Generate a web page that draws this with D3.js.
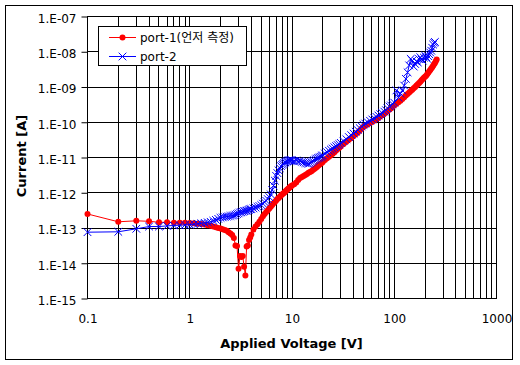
<!DOCTYPE html>
<html>
<head>
<meta charset="utf-8">
<script src="https://cdn.jsdelivr.net/npm/d3@7"></script>
<style>
  body { margin: 0; background: #fff; }
  text { font-family: "DejaVu Sans", sans-serif; fill: #000; }
</style>
</head>
<body>
<script>
// applied voltage [V], shared by both ports (port-2 stops earlier)
var voltage = [
  0.1, 0.2, 0.3, 0.4, 0.5, 0.6, 0.7, 0.8, 0.9, 1.0,
  1.1, 1.2, 1.3, 1.4, 1.5, 1.6, 1.7, 1.8, 1.9, 2.0,
  2.1, 2.2, 2.3, 2.4, 2.5, 2.6, 2.7, 2.8, 2.9, 3.0,
  3.1, 3.2, 3.3, 3.4, 3.5, 3.6, 3.7, 3.8, 3.9, 4.0,
  4.2, 4.4, 4.6, 4.8, 5.0, 5.2, 5.4, 5.6, 5.8, 6.0,
  6.2, 6.4, 6.6, 6.8, 7.0, 7.2, 7.4, 7.6, 7.8, 8.0,
  8.2, 8.4, 8.6, 8.8, 9.0, 9.2, 9.4, 9.6, 9.8, 10,
  10.5, 11, 11.5, 12, 12.5, 13, 13.5, 14, 14.5, 15,
  15.5, 16, 16.5, 17, 17.5, 18, 18.5, 19, 19.5, 20,
  21, 22, 23, 24, 25, 26, 27, 28, 29, 30,
  32, 34, 36, 38, 40, 42, 44, 46, 48, 50,
  52, 55, 58, 61, 64, 67, 70, 73, 76, 80, 83, 86, 90, 93, 96, 100,
  105, 110, 115, 120, 125, 130, 135, 140, 145, 150,
  155, 160, 165, 170, 175, 180, 185, 190, 195, 200,
  205, 210, 215, 220, 225, 230, 235, 240, 245, 250, 255, 260
];

// current [A], port-1 (measured first)
var port1 = [
  2.5e-13, 1.5e-13, 1.6e-13, 1.55e-13, 1.45e-13, 1.45e-13, 1.42e-13, 1.4e-13, 1.4e-13, 1.38e-13,
  1.36e-13, 1.33e-13, 1.3e-13, 1.26e-13, 1.2e-13, 1.15e-13, 1.1e-13, 1.05e-13, 1.0e-13, 9.6e-14,
  9.2e-14, 8.8e-14, 8.3e-14, 7.6e-14, 7.0e-14, 6.3e-14, 5.2e-14, 3.2e-14, 3.1e-14, 7e-15,
  1.6e-14, 1.5e-14, 1.6e-14, 8e-15, 4.5e-15, 3.0e-14, 3.2e-14, 4.6e-14, 5.4e-14, 6.5e-14,
  9e-14, 1.1e-13, 1.28e-13, 1.5e-13, 1.8e-13, 2.15e-13, 2.5e-13, 2.85e-13, 3.2e-13, 3.6e-13,
  4.0e-13, 4.5e-13, 5.0e-13, 5.5e-13, 6.0e-13, 6.6e-13, 7.1e-13, 7.7e-13, 8.3e-13, 8.9e-13,
  9.5e-13, 1.0e-12, 1.08e-12, 1.15e-12, 1.23e-12, 1.3e-12, 1.38e-12, 1.45e-12, 1.53e-12, 1.6e-12,
  1.75e-12, 1.95e-12, 2.3e-12, 2.6e-12, 2.8e-12, 3.0e-12, 3.2e-12, 3.4e-12, 3.7e-12, 3.9e-12,
  4.1e-12, 4.4e-12, 4.7e-12, 5.0e-12, 5.4e-12, 5.8e-12, 6.2e-12, 6.6e-12, 7.0e-12, 7.5e-12,
  8.5e-12, 9.5e-12, 1.05e-11, 1.15e-11, 1.28e-11, 1.42e-11, 1.58e-11, 1.75e-11, 1.9e-11, 2.05e-11,
  2.4e-11, 2.8e-11, 3.2e-11, 3.6e-11, 4.1e-11, 4.6e-11, 5.1e-11, 5.8e-11, 6.6e-11, 7.4e-11,
  7.9e-11, 8.7e-11, 9.5e-11, 1.03e-10, 1.12e-10, 1.22e-10, 1.33e-10, 1.45e-10, 1.58e-10, 1.75e-10,
  1.9e-10, 2.05e-10, 2.3e-10, 2.5e-10, 2.7e-10, 3.0e-10,
  3.35e-10, 3.7e-10, 4.1e-10, 4.6e-10, 5.1e-10, 5.7e-10, 6.3e-10, 7.0e-10, 7.7e-10, 8.4e-10,
  9.2e-10, 1.0e-9, 1.1e-9, 1.2e-9, 1.3e-9, 1.42e-9, 1.55e-9, 1.68e-9, 1.82e-9, 1.96e-9,
  2.1e-9, 2.3e-9, 2.55e-9, 2.8e-9, 3.05e-9, 3.35e-9, 3.65e-9, 4.0e-9, 4.4e-9, 4.8e-9, 5.4e-9, 6.0e-9
];

// current [A], port-2
var port2 = [
  7.6e-14, 7.8e-14, 9.5e-14, 1.1e-13, 1.1e-13, 1.15e-13, 1.18e-13, 1.2e-13, 1.22e-13, 1.25e-13,
  1.28e-13, 1.32e-13, 1.36e-13, 1.4e-13, 1.45e-13, 1.5e-13, 1.6e-13, 1.7e-13, 1.82e-13, 1.95e-13,
  2.0e-13, 2.05e-13, 2.1e-13, 2.15e-13, 2.2e-13, 2.25e-13, 2.3e-13, 2.4e-13, 2.5e-13, 2.6e-13,
  2.75e-13, 2.8e-13, 2.9e-13, 3.0e-13, 3.05e-13, 3.1e-13, 3.2e-13, 3.3e-13, 3.4e-13, 3.45e-13,
  3.6e-13, 3.8e-13, 4.0e-13, 4.2e-13, 4.5e-13, 4.9e-13, 5.4e-13, 5.9e-13, 6.6e-13, 7.5e-13,
  9.0e-13, 1.2e-12, 1.6e-12, 2.2e-12, 3.0e-12, 3.6e-12, 4.3e-12, 5.0e-12, 5.7e-12, 6.2e-12,
  6.6e-12, 7.0e-12, 7.3e-12, 7.6e-12, 7.9e-12, 8.1e-12, 8.3e-12, 8.2e-12, 8.4e-12, 8.3e-12,
  8.0e-12, 8.2e-12, 7.8e-12, 7.9e-12, 7.5e-12, 7.3e-12, 7.0e-12, 6.8e-12, 6.6e-12, 6.9e-12,
  7.4e-12, 7.9e-12, 8.4e-12, 8.9e-12, 9.3e-12, 9.7e-12, 1.0e-11, 1.05e-11, 1.1e-11, 1.15e-11,
  1.3e-11, 1.42e-11, 1.55e-11, 1.68e-11, 1.8e-11, 1.95e-11, 2.1e-11, 2.25e-11, 2.4e-11, 2.6e-11,
  2.9e-11, 3.3e-11, 3.8e-11, 4.3e-11, 4.8e-11, 5.4e-11, 6.0e-11, 6.8e-11, 7.6e-11, 8.5e-11,
  9.2e-11, 1.0e-10, 1.1e-10, 1.2e-10, 1.3e-10, 1.42e-10, 1.55e-10, 1.7e-10, 1.85e-10, 2.0e-10,
  2.2e-10, 2.5e-10, 2.8e-10, 3.0e-10, 3.3e-10, 3.6e-10,
  8e-10, 5e-10, 6.5e-10, 8e-10, 1.1e-9, 1.7e-9, 2.6e-9, 4.1e-9, 6.3e-9, 5.6e-9,
  3.8e-9, 4.5e-9, 5.3e-9, 5.0e-9, 6.2e-9, 7.0e-9, 6.0e-9, 5.6e-9, 6.8e-9, 7.8e-9,
  7.0e-9, 6.3e-9, 7.5e-9, 8.5e-9, 9.5e-9, 1.07e-8, 1.3e-8, 1.6e-8, 1.8e-8, 1.9e-8
];

var seriesNames = ["port-1(언저 측정)", "port-2"];
var xTickLabels = ["0.1", "1", "10", "100", "1000"];
var yTickLabels = ["1.E-15", "1.E-14", "1.E-13", "1.E-12", "1.E-11", "1.E-10", "1.E-09", "1.E-08", "1.E-07"];

var W = 520, H = 365;
var plotL = 87.5, plotR = 496.5, plotT = 16.5, plotB = 298.5;

var svg = d3.select("body").append("svg")
    .attr("width", W)
    .attr("height", H);

// chart frame
svg.append("rect")
    .attr("x", 5.5).attr("y", 5.5)
    .attr("width", 507).attr("height", 354)
    .attr("fill", "#fff")
    .attr("stroke", "#000");

var x = d3.scaleLog().domain([0.1, 1000]).range([plotL, plotR]);
var y = d3.scaleLog().domain([1e-15, 1e-7]).range([plotB, plotT]);

function isDecade(d) {
  return Math.abs(Math.log10(d) - Math.round(Math.log10(d))) < 1e-9;
}
var xDecades = x.ticks().filter(isDecade);
var yDecades = y.ticks().filter(isDecade);

function snap(v) { return Math.round(v - 0.5) + 0.5; }

// grid: all log ticks on x, decades on y
svg.append("g").selectAll("line")
    .data(x.ticks())
  .enter().append("line")
    .attr("x1", function(d) { return snap(x(d)); })
    .attr("x2", function(d) { return snap(x(d)); })
    .attr("y1", plotT).attr("y2", plotB)
    .attr("stroke", "#000");

svg.append("g").selectAll("line")
    .data(yDecades)
  .enter().append("line")
    .attr("x1", plotL).attr("x2", plotR)
    .attr("y1", function(d) { return snap(y(d)); })
    .attr("y2", function(d) { return snap(y(d)); })
    .attr("stroke", "#000");

svg.append("rect")
    .attr("x", plotL).attr("y", plotT)
    .attr("width", plotR - plotL).attr("height", plotB - plotT)
    .attr("fill", "none")
    .attr("stroke", "#000");

// axes
var yAxis = svg.append("g")
    .attr("transform", "translate(" + plotL + ",0)")
    .call(d3.axisLeft(y).tickValues(yDecades).tickSize(6).tickPadding(5)
      .tickFormat(function(d, i) { return yTickLabels[i]; }));
yAxis.select(".domain").remove();
yAxis.selectAll("line").attr("stroke", "#000");
yAxis.selectAll("text").attr("font-size", 12).attr("dy", "0.48em")
    .attr("fill", "#000").style("font-family", "DejaVu Sans");

var xAxis = svg.append("g")
    .attr("transform", "translate(0," + plotB + ")")
    .call(d3.axisBottom(x).tickValues(xDecades).tickSize(0).tickPadding(16)
      .tickFormat(function(d, i) { return xTickLabels[i]; }));
xAxis.select(".domain").remove();
xAxis.selectAll("text").attr("font-size", 12)
    .attr("fill", "#000").style("font-family", "DejaVu Sans");

svg.append("text")
    .attr("x", 291.5).attr("y", 348)
    .attr("text-anchor", "middle")
    .attr("font-size", 13).attr("font-weight", "bold")
    .text("Applied Voltage [V]");

svg.append("text")
    .attr("transform", "translate(26,156) rotate(-90)")
    .attr("text-anchor", "middle")
    .attr("font-size", 13).attr("font-weight", "bold")
    .text("Current [A]");

// series
var line = d3.line()
    .x(function(d) { return x(d[0]); })
    .y(function(d) { return y(d[1]); });

var pts1 = port1.map(function(v, i) { return [voltage[i], v]; });
var pts2 = port2.map(function(v, i) { return [voltage[i], v]; });

var cross = d3.symbol().type(d3.symbolX).size(40);

function drawRed(g, pts) {
  g.append("path").datum(pts)
      .attr("d", line)
      .attr("fill", "none")
      .attr("stroke", "#ff0000")
      .attr("stroke-width", 1);
  g.selectAll("circle").data(pts)
    .enter().append("circle")
      .attr("cx", function(d) { return x(d[0]); })
      .attr("cy", function(d) { return y(d[1]); })
      .attr("r", 3)
      .attr("fill", "#ff0000");
}

function drawBlue(g, pts) {
  g.append("path").datum(pts)
      .attr("d", line)
      .attr("fill", "none")
      .attr("stroke", "#0000ff")
      .attr("stroke-width", 1);
  g.selectAll("path.mk").data(pts)
    .enter().append("path")
      .attr("class", "mk")
      .attr("transform", function(d) { return "translate(" + x(d[0]) + "," + y(d[1]) + ")"; })
      .attr("d", cross)
      .attr("fill", "none")
      .attr("stroke", "#0000ff")
      .attr("stroke-width", 1);
}

drawRed(svg.append("g"), pts1);
drawBlue(svg.append("g"), pts2);

// legend
var lg = svg.append("g");
lg.append("rect")
    .attr("x", 98.5).attr("y", 26.5)
    .attr("width", 148).attr("height", 39)
    .attr("fill", "#fff")
    .attr("stroke", "#000");

var legY = [37.5, 56.5];
var leg1 = lg.append("g");
leg1.append("line").attr("x1", 109).attr("x2", 136).attr("y1", legY[0]).attr("y2", legY[0])
    .attr("stroke", "#ff0000");
leg1.append("circle").attr("cx", 122.5).attr("cy", legY[0]).attr("r", 3).attr("fill", "#ff0000");
var leg2 = lg.append("g");
leg2.append("line").attr("x1", 109).attr("x2", 136).attr("y1", legY[1]).attr("y2", legY[1])
    .attr("stroke", "#0000ff");
leg2.append("path").attr("transform", "translate(122.5," + legY[1] + ")")
    .attr("d", cross).attr("fill", "none").attr("stroke", "#0000ff");

lg.selectAll("text.lbl").data(seriesNames)
  .enter().append("text")
    .attr("class", "lbl")
    .attr("x", 140)
    .attr("y", function(d, i) { return legY[i]; })
    .attr("dy", "0.36em")
    .attr("font-size", 12)
    .style("font-family", "'DejaVu Sans', 'Noto Sans CJK KR', sans-serif")
    .text(function(d) { return d; });
</script>
</body>
</html>
